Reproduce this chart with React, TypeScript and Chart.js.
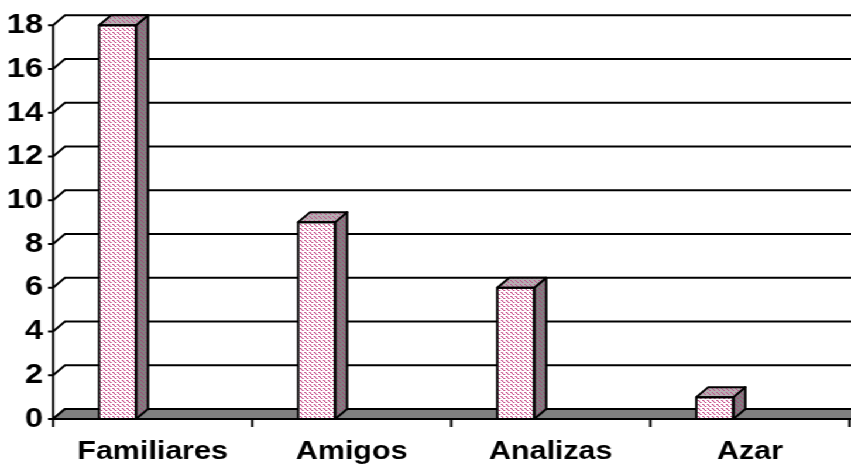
import React, { useEffect, useRef } from "react";
import { Chart, registerables } from "chart.js";

Chart.register(...registerables);

const categories = ["Familiares", "Amigos", "Analizas", "Azar"];
const values = [18, 9, 6, 1];
const yMin = 0;
const yMax = 18;
const yStep = 2;

const SX = 1.17;
const W = 851;
const H = 470;
const IW = Math.round(W / SX);
const DX = 12 / SX;
const DY = 10;

function makePattern(ctx: CanvasRenderingContext2D, bg: string, dark: string, light: string) {
  const c = document.createElement("canvas");
  c.width = 4;
  c.height = 4;
  const g = c.getContext("2d")!;
  g.fillStyle = bg;
  g.fillRect(0, 0, 4, 4);
  g.fillStyle = dark;
  g.fillRect(0, 0, 1, 1);
  g.fillRect(1, 1, 1, 1);
  g.fillRect(2, 2, 1, 1);
  g.fillStyle = light;
  g.fillRect(1, 0, 1, 1);
  g.fillRect(3, 2, 1, 1);
  return ctx.createPattern(c, "repeat")!;
}

export default function App() {
  const ref = useRef<HTMLCanvasElement | null>(null);

  useEffect(() => {
    document.body.style.margin = "0";
    const canvas = ref.current!;
    const ctx = canvas.getContext("2d")!;
    const frontPat = makePattern(ctx, "#ffffff", "#c0407f", "#e8a8c8");
    const sidePat = makePattern(ctx, "#808080", "#a04878", "#8c7080");
    const topPat = makePattern(ctx, "#b4b0b2", "#b85088", "#c8a0b4");

    const frame = {
      id: "frame3d",
      beforeDatasetsDraw(chart: any) {
        const c = chart.ctx;
        const ys = chart.scales.y;
        const xs = chart.scales.x;
        const left = chart.chartArea.left;
        const y0 = ys.getPixelForValue(yMin);
        c.save();
        c.strokeStyle = "#000";
        c.lineWidth = 2;
        for (let v = yMin; v <= yMax; v += yStep) {
          const y = ys.getPixelForValue(v);
          c.beginPath();
          c.moveTo(left - 5 / SX, y);
          c.lineTo(left, y);
          c.lineTo(left + DX, y - DY);
          c.lineTo(IW + 2, y - DY);
          c.stroke();
        }
        c.beginPath();
        c.moveTo(left, y0);
        c.lineTo(left + DX, y0 - DY);
        c.lineTo(IW + 4, y0 - DY);
        c.lineTo(IW + 4, y0);
        c.closePath();
        c.fillStyle = "#808080";
        c.fill();
        c.stroke();
        c.beginPath();
        c.moveTo(left, ys.getPixelForValue(yMax));
        c.lineTo(left, y0 + 8);
        c.stroke();
        c.beginPath();
        c.moveTo(left - 5 / SX, y0);
        c.lineTo(IW + 2, y0);
        c.stroke();
        const catW = (xs.right - xs.left) / categories.length;
        for (let i = 1; i <= categories.length; i++) {
          const x = xs.left + i * catW;
          c.beginPath();
          c.moveTo(x, y0);
          c.lineTo(x, y0 + 8);
          c.stroke();
        }
        c.restore();
      },
      afterDatasetsDraw(chart: any) {
        const c = chart.ctx;
        const meta = chart.getDatasetMeta(0);
        c.save();
        c.strokeStyle = "#000";
        c.lineWidth = 2;
        c.lineJoin = "round";
        meta.data.forEach((el: any) => {
          const p = el.getProps(["x", "y", "base", "width"], true);
          const l = p.x - p.width / 2;
          const r = p.x + p.width / 2;
          const t = p.y;
          const b = p.base;
          c.beginPath();
          c.moveTo(r, t);
          c.lineTo(r + DX, t - DY);
          c.lineTo(r + DX, b - DY);
          c.lineTo(r, b);
          c.closePath();
          c.fillStyle = sidePat;
          c.fill();
          c.stroke();
          c.beginPath();
          c.moveTo(l, t);
          c.lineTo(l + DX, t - DY);
          c.lineTo(r + DX, t - DY);
          c.lineTo(r, t);
          c.closePath();
          c.fillStyle = topPat;
          c.fill();
          c.stroke();
          c.strokeRect(l, t, r - l, b - t);
        });
        c.restore();
      },
    };

    const family = "'Liberation Sans', Arial, sans-serif";
    const xFont = { family, weight: "bold" as const, size: 26 };
    const yFont = { family, weight: "bold" as const, size: 28 };

    const chart = new Chart(canvas, {
      type: "bar",
      data: {
        labels: categories,
        datasets: [
          {
            data: values,
            backgroundColor: frontPat,
            borderWidth: 0,
            categoryPercentage: 0.7035,
            barPercentage: 0.5286,
          },
          {
            data: categories.map(() => null),
            backgroundColor: "rgba(0,0,0,0)",
            categoryPercentage: 0.7035,
            barPercentage: 0.5286,
          },
        ],
      },
      options: {
        responsive: false,
        animation: false,
        devicePixelRatio: 1,
        layout: { padding: { top: 22, right: IW - 849 / SX, left: 0, bottom: 0 } },
        plugins: { legend: { display: false }, tooltip: { enabled: false } },
        scales: {
          x: {
            grid: { display: false, drawTicks: false },
            border: { display: false },
            ticks: { font: xFont, color: "#000", padding: 17, maxRotation: 0, autoSkip: false },
            afterFit: (s: any) => {
              s.height = H - 419;
            },
          },
          y: {
            min: yMin,
            max: yMax,
            grid: { display: false, drawTicks: false },
            border: { display: false },
            ticks: { font: yFont, color: "#000", stepSize: yStep, padding: 8.5 },
            afterFit: (s: any) => {
              s.width = 53 / SX;
            },
          },
        },
      },
      plugins: [frame],
    });
    return () => chart.destroy();
  }, []);

  return (
    <div
      style={{
        position: "fixed",
        left: 0,
        top: 0,
        width: IW,
        height: H,
        transform: `scaleX(${W / IW})`,
        transformOrigin: "0 0",
        background: "#fff",
      }}
    >
      <canvas ref={ref} width={IW} height={H} style={{ width: IW, height: H, display: "block" }} />
    </div>
  );
}
